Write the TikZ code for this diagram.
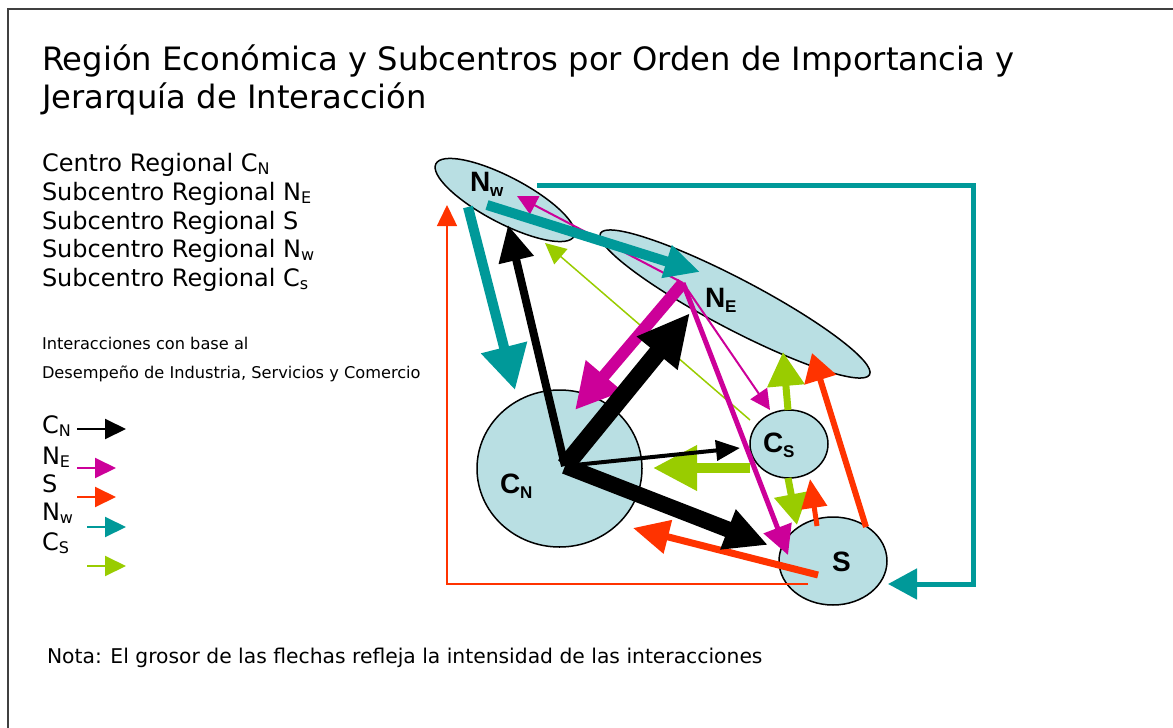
\documentclass[tikz,border=0pt]{standalone}
\usepackage{fontspec}
\setmainfont{DejaVu Sans}
\newfontfamily\lblfont{Liberation Sans}
\usetikzlibrary{arrows.meta,shapes.geometric}
\definecolor{bubble}{RGB}{185,223,227}
\definecolor{tealc}{RGB}{0,153,153}
\definecolor{magc}{RGB}{204,0,153}
\definecolor{redc}{RGB}{255,51,0}
\definecolor{limec}{RGB}{153,204,0}
\definecolor{framec}{RGB}{64,64,64}
\newcommand\lsub[1]{\raisebox{-3pt}{\fontsize{16}{16}\selectfont #1}}
\newcommand\dsub[1]{\raisebox{-5pt}{\fontsize{17}{17}\selectfont #1}}
\tikzset{
  bub/.style={ellipse, draw=black, line width=1.5pt, fill=bubble, inner sep=0pt, outer sep=0pt},
  hd/.style 2 args={-{Triangle[length=#1pt,width=#2pt]}},
  txt/.style={anchor=base west, inner sep=0pt, outer sep=0pt},
  big/.style={txt, font=\fontsize{24}{29}\selectfont},
  lbl/.style={txt, font=\lblfont\bfseries\fontsize{28}{30}\selectfont},
}
\begin{document}
\begin{tikzpicture}[x=1pt,y=-1pt]
\useasboundingbox (0,0) rectangle (1173,728);
\clip (0,0) rectangle (1173,728);
\draw[framec, line width=2pt] (8,9) rectangle (1190,750);

% titles and texts
\node[txt, font=\fontsize{32.2}{38}\selectfont] (t1) at (42,70) {Región Económica y Subcentros por Orden de Importancia y};
\node[txt, font=\fontsize{32.2}{38}\selectfont] (t2) at (42,108) {Jerarquía de Interacción};
\node[big] (l1) at (42,171) {Centro Regional C\lsub{N}};
\node[big] (l2) at (42,200) {Subcentro Regional N\lsub{E}};
\node[big] (l3) at (42,229) {Subcentro Regional S};
\node[big] (l4) at (42,257) {Subcentro Regional N\lsub{w}};
\node[big] (l5) at (42,286) {Subcentro Regional C\lsub{s}};
\node[txt, font=\fontsize{16.2}{20}\selectfont] (i1) at (42,349) {Interacciones con base al};
\node[txt, font=\fontsize{16.2}{20}\selectfont] (i2) at (42,378) {Desempeño de Industria, Servicios y Comercio};
\node[big] (k1) at (42,433) {C\lsub{N}};
\node[big] (k2) at (42,464) {N\lsub{E}};
\node[big] (k3) at (42,492) {S};
\node[big] (k4) at (42,520) {N\lsub{w}};
\node[big] (k5) at (42,550) {C\lsub{S}};
\node[txt, font=\fontsize{20.3}{24}\selectfont] (nota) at (47,663) {Nota: El grosor de las flechas refleja la intensidad de las interacciones};

% legend arrows
\coordinate (a1s) at (77,429); \coordinate (a1e) at (126,429);
\coordinate (a2s) at (77,468); \coordinate (a2e) at (116,468);
\coordinate (a3s) at (77,497); \coordinate (a3e) at (116,497);
\coordinate (a4s) at (87,527); \coordinate (a4e) at (126,527);
\coordinate (a5s) at (87,566); \coordinate (a5e) at (126,566);
\draw[black, line width=2pt, hd={21}{20}] (a1s) -- (a1e);
\draw[magc, line width=2pt, hd={21}{20}] (a2s) -- (a2e);
\draw[redc, line width=2pt, hd={21}{20}] (a3s) -- (a3e);
\draw[tealc, line width=2pt, hd={21}{20}] (a4s) -- (a4e);
\draw[limec, line width=2pt, hd={21}{20}] (a5s) -- (a5e);

% bubbles
\node[bub, minimum width=156pt, minimum height=46pt, rotate=-27.7] (nw) at (505,200) {};
\node[bub, minimum width=304pt, minimum height=50pt, rotate=-27.7] (ne) at (735,304) {};
\node[bub, minimum width=165pt, minimum height=157pt] (cn) at (559.5,468.5) {};
\node[bub, minimum width=78pt, minimum height=68pt] (cs) at (789,444) {};
\node[bub, minimum width=108pt, minimum height=88pt] (s) at (833,561) {};

\node[lbl] (nwl) at (470,191) {N\dsub{w}};
\node[lbl] (nel) at (705,307) {N\dsub{E}};
\node[lbl] (cnl) at (500,493) {C\dsub{N}};
\node[lbl] (csl) at (763,452) {C\dsub{S}};
\node[lbl] (sl) at (832,571) {S};

% arrow end points
\coordinate (cnO) at (565,466);
\coordinate (neO) at (683,283);
\coordinate (cnNw) at (508,225);
\coordinate (cnNe) at (690,313);
\coordinate (cnCs) at (740,448);
\coordinate (cnS) at (768,545);
\coordinate (neCn) at (575,410);
\coordinate (neS) at (788,555);
\coordinate (neCs) at (770,410);
\coordinate (neNw) at (517,196);
\coordinate (nwA) at (487,205); \coordinate (nwNe) at (700,272);
\coordinate (nwB) at (468,207); \coordinate (nwCn) at (515,390);
\coordinate (nwC) at (537,185); \coordinate (nwS) at (888,584);
\coordinate (sA) at (818,575); \coordinate (sCn) at (633,528);
\coordinate (sB) at (866,527); \coordinate (sNe) at (812,353);
\coordinate (sC) at (817,526); \coordinate (sCs) at (810,479);
\coordinate (sD) at (808,584); \coordinate (sNw) at (447,205);
\coordinate (csA) at (750,468); \coordinate (csCn) at (653,468);
\coordinate (csB) at (788,410); \coordinate (csNe) at (783,352);
\coordinate (csC) at (788,478); \coordinate (csS) at (797,525);
\coordinate (csD) at (750,420); \coordinate (csNw) at (545,243);

% thin arrows
\draw[redc, line width=1.5pt, hd={21}{20}] (sD) -- (447,584) -- (sNw);
\draw[limec, line width=1.5pt, hd={21}{20}] (csD) -- (csNw);
\draw[magc, line width=2pt, hd={20}{20}] (neO) -- (neCs);
\draw[magc, line width=2pt, hd={20}{20}] (neO) -- (neNw);

% teal
\draw[tealc, line width=5pt, hd={29}{30}] (nwC) -- (973,185) -- (973,584) -- (nwS);
\draw[tealc, line width=10pt, hd={35}{32}] (nwA) -- (nwNe);
\draw[tealc, line width=10pt, hd={44}{45}] (nwB) -- (nwCn);

% magenta
\draw[magc, line width=12pt, hd={45}{45}] (neO) -- (neCn);
\draw[magc, line width=5pt, hd={29}{29}] (neO) -- (neS);

% green
\draw[limec, line width=10pt, hd={44}{43}] (csA) -- (csCn);
\draw[limec, line width=7pt, hd={34}{36}] (csB) -- (csNe);
\draw[limec, line width=7pt, hd={31}{33}] (csC) -- (csS);

% red
\draw[redc, line width=7pt, hd={36}{33}] (sA) -- (sCn);
\draw[redc, line width=6pt, hd={28}{32}] (sB) -- (sNe);
\draw[redc, line width=5pt, hd={29}{25}] (sC) -- (sCs);

% black
\draw[black, line width=8pt, hd={36}{34}] (cnO) -- (cnNw);
\draw[black, line width=18pt, hd={52}{49}] (cnO) -- (cnNe);
\draw[black, line width=4pt, hd={24}{20}] (cnO) -- (cnCs);
\draw[black, line width=16pt, hd={43}{40}] (cnO) -- (cnS);
\end{tikzpicture}
\end{document}
